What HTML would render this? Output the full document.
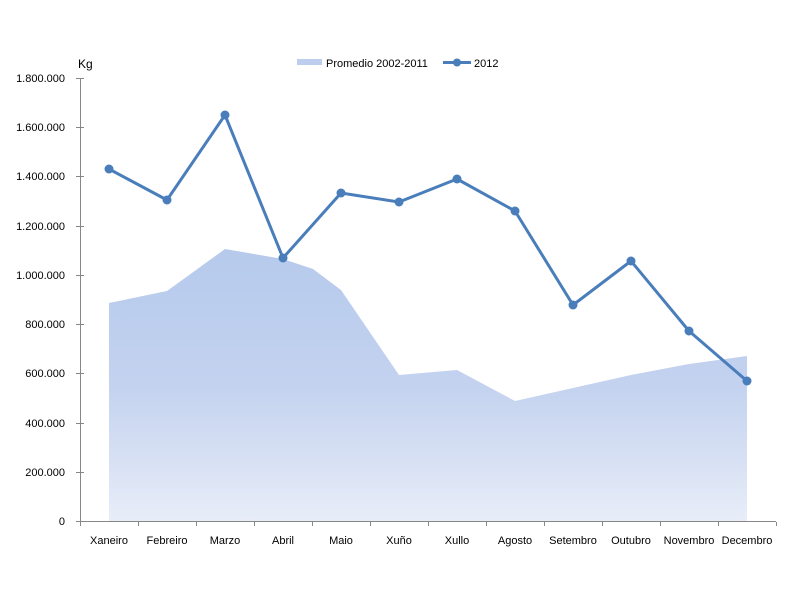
<!DOCTYPE html>
<html><head><meta charset="utf-8"><style>
html,body{margin:0;padding:0;background:#fff;}
svg{display:block;font-family:"Liberation Sans",sans-serif;}
</style></head><body>
<svg width="800" height="600" viewBox="0 0 800 600" xmlns="http://www.w3.org/2000/svg">
<defs>
<linearGradient id="ga" x1="0" y1="249" x2="0" y2="522" gradientUnits="userSpaceOnUse">
<stop offset="0" stop-color="#b6caec"/>
<stop offset="0.5" stop-color="#c3d2ef"/>
<stop offset="1" stop-color="#e8edf8"/>
</linearGradient>
</defs>
<polygon fill="url(#ga)" points="109,522 109,303 167,291 225,249 283,259 313,269 341,290 399,375 457,370 515,401 573,388 631,375 689,364 747,356 747,522"/>
<g stroke="#878787" stroke-width="1" fill="none">
<line x1="80.5" y1="78" x2="80.5" y2="522"/>
<line x1="80" y1="521.5" x2="776" y2="521.5"/>
<line x1="76" y1="78.5" x2="84" y2="78.5"/>
<line x1="76" y1="127.5" x2="84" y2="127.5"/>
<line x1="76" y1="176.5" x2="84" y2="176.5"/>
<line x1="76" y1="226.5" x2="84" y2="226.5"/>
<line x1="76" y1="275.5" x2="84" y2="275.5"/>
<line x1="76" y1="324.5" x2="84" y2="324.5"/>
<line x1="76" y1="373.5" x2="84" y2="373.5"/>
<line x1="76" y1="423.5" x2="84" y2="423.5"/>
<line x1="76" y1="472.5" x2="84" y2="472.5"/>
<line x1="76" y1="521.5" x2="84" y2="521.5"/>
<path d="M80.5 522v4M138.5 522v4M196.5 522v4M254.5 522v4M312.5 522v4M370.5 522v4M428.5 522v4M486.5 522v4M544.5 522v4M602.5 522v4M660.5 522v4M718.5 522v4M776.5 522v4"/>
</g>
<g font-size="11" fill="#000" text-anchor="end">
<text x="65" y="82">1.800.000</text>
<text x="65" y="131">1.600.000</text>
<text x="65" y="180">1.400.000</text>
<text x="65" y="230">1.200.000</text>
<text x="65" y="279">1.000.000</text>
<text x="65" y="328">800.000</text>
<text x="65" y="377">600.000</text>
<text x="65" y="427">400.000</text>
<text x="65" y="476">200.000</text>
<text x="65" y="525">0</text>
</g>
<text x="78" y="68" font-size="12">Kg</text>
<g font-size="11" text-anchor="middle">
<text x="109" y="544">Xaneiro</text>
<text x="167" y="544">Febreiro</text>
<text x="225" y="544">Marzo</text>
<text x="283" y="544">Abril</text>
<text x="341" y="544">Maio</text>
<text x="399" y="544">Xuño</text>
<text x="457" y="544">Xullo</text>
<text x="515" y="544">Agosto</text>
<text x="573" y="544">Setembro</text>
<text x="631" y="544">Outubro</text>
<text x="689" y="544">Novembro</text>
<text x="747" y="544">Decembro</text>
</g>
<polyline fill="none" stroke="#4a7ebb" stroke-width="3" stroke-linejoin="round" points="109,169 167,200 225,115 283,258 341,193 399,202 457,179 515,211 573,305 631,261 689,331 747,381"/>
<g fill="#4a7ebb">
<circle cx="109" cy="169" r="4.5"/><circle cx="167" cy="200" r="4.5"/><circle cx="225" cy="115" r="4.5"/>
<circle cx="283" cy="258" r="4.5"/><circle cx="341" cy="193" r="4.5"/><circle cx="399" cy="202" r="4.5"/>
<circle cx="457" cy="179" r="4.5"/><circle cx="515" cy="211" r="4.5"/><circle cx="573" cy="305" r="4.5"/>
<circle cx="631" cy="261" r="4.5"/><circle cx="689" cy="331" r="4.5"/><circle cx="747" cy="381" r="4.5"/>
</g>
<rect x="297" y="59" width="25" height="6" fill="#bccdee"/>
<text x="326" y="67" font-size="11">Promedio 2002-2011</text>
<line x1="443" y1="62.5" x2="471" y2="62.5" stroke="#4a7ebb" stroke-width="3"/>
<circle cx="457" cy="62.5" r="4" fill="#4a7ebb"/>
<text x="474" y="67" font-size="11">2012</text>
</svg>
</body></html>
